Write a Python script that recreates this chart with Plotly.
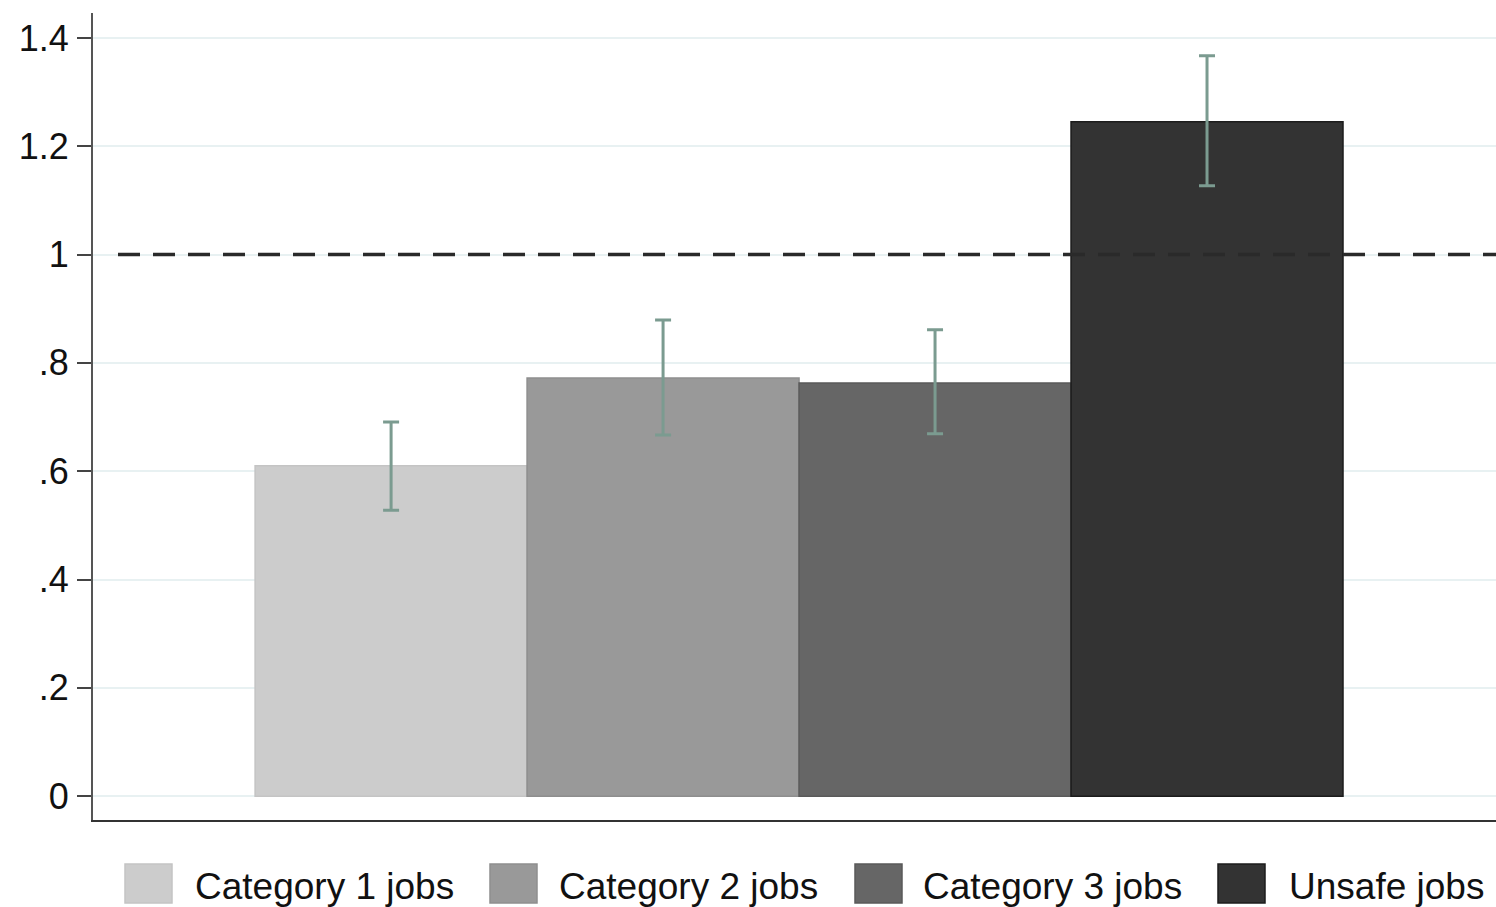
import plotly.graph_objects as go

categories = ["Category 1 jobs", "Category 2 jobs", "Category 3 jobs", "Unsafe jobs"]
values = [0.61, 0.772, 0.763, 1.245]
ci_upper = [0.691, 0.879, 0.861, 1.367]
ci_lower = [0.528, 0.667, 0.669, 1.127]
bar_colors = ["#cccccc", "#999999", "#666666", "#333333"]
edge_colors = ["#c4c4c4", "#8e8e8e", "#5a5a5a", "#1c1c1c"]
tick_vals = [0, 0.2, 0.4, 0.6, 0.8, 1.0, 1.2, 1.4]
tick_text = ["0", ".2", ".4", ".6", ".8", "1", "1.2", "1.4"]
ref_line = 1.0

W, H = 1496, 907
L, R, T, B = 93, 0, 13, 87
pw, ph = W - L - R, H - T - B

fig = go.Figure()
for i, cat in enumerate(categories):
    fig.add_trace(go.Bar(
        x=[i], y=[values[i]], width=1, name=cat,
        marker=dict(color=bar_colors[i], line=dict(color=edge_colors[i], width=1.5)),
        error_y=dict(type="data", symmetric=False,
                     array=[ci_upper[i] - values[i]],
                     arrayminus=[values[i] - ci_lower[i]],
                     color="#7b9b90", thickness=3, width=8),
        showlegend=False,
    ))

# dashed reference line
fig.add_shape(type="line", xref="paper", yref="y",
              x0=(118 - L) / pw, x1=1, y0=ref_line, y1=ref_line,
              line=dict(color="#2a2a2a", width=3.5, dash="22px,13px"), layer="above")

# custom legend
sw_left = [125, 490, 855, 1218]
txt_left = [193, 557, 921, 1287]
sy0, sy1 = 864, 903
for i, cat in enumerate(categories):
    fig.add_shape(type="rect", xref="paper", yref="paper",
                  x0=(sw_left[i] - L) / pw, x1=(sw_left[i] + 47 - L) / pw,
                  y0=(H - B - sy1) / ph, y1=(H - B - sy0) / ph,
                  fillcolor=bar_colors[i], line=dict(color=edge_colors[i], width=1.5))
    fig.add_annotation(xref="paper", yref="paper",
                       x=(txt_left[i] - L) / pw, y=(H - B - 886) / ph,
                       xanchor="left", yanchor="middle", showarrow=False,
                       text=cat, font=dict(size=37, color="#111111"))

fig.update_layout(
    width=W, height=H,
    margin=dict(l=L, r=R, t=T, b=B, autoexpand=False),
    paper_bgcolor="white", plot_bgcolor="white",
    barmode="overlay",
    font=dict(family="Liberation Sans, Arial, sans-serif", size=36, color="#111111"),
    xaxis=dict(range=[-1.096, 4.0625], showticklabels=False, ticks="",
               showgrid=False, zeroline=False, showline=True,
               linecolor="#333333", linewidth=2),
    yaxis=dict(range=[-0.044, 1.446], tickvals=tick_vals, ticktext=tick_text,
               ticks="outside", ticklen=14, tickwidth=2, tickcolor="#444444",
               showgrid=True, gridcolor="#e8f1f2", gridwidth=2,
               zeroline=False, showline=True, linecolor="#555555", linewidth=2,
               ticklabelstandoff=1, tickfont=dict(size=36)),
)

fig.write_html("out.html")
